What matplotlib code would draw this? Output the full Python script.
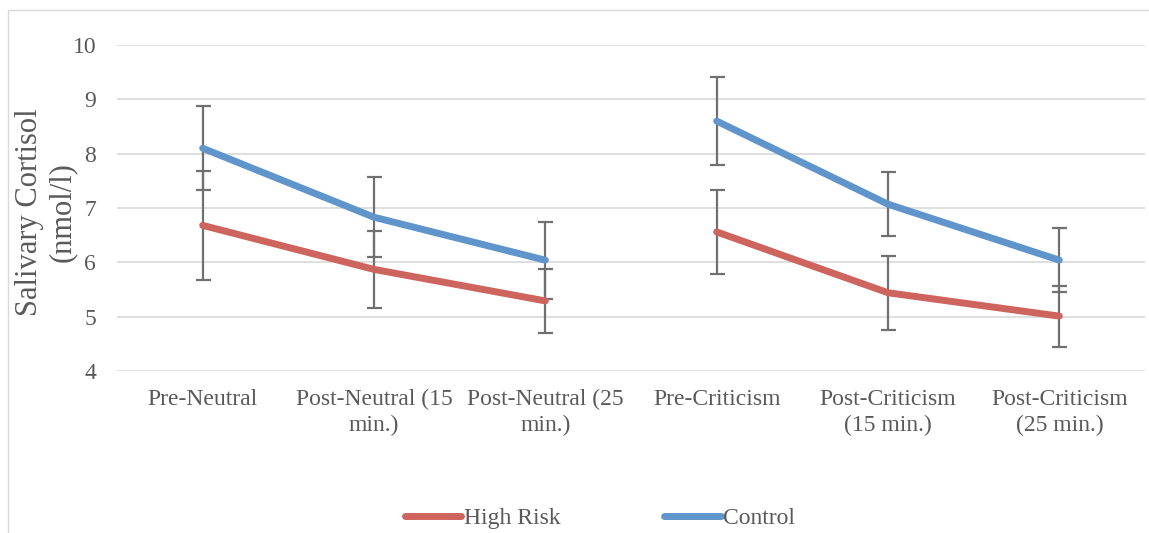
import matplotlib
matplotlib.use('Agg')
import matplotlib.pyplot as plt
import numpy as np
from matplotlib.patches import Rectangle
from matplotlib.lines import Line2D

# data
categories = ['Pre-Neutral', 'Post-Neutral (15\nmin.)', 'Post-Neutral (25\nmin.)',
              'Pre-Criticism', 'Post-Criticism\n(15 min.)', 'Post-Criticism\n(25 min.)']
high_risk = [6.68, 5.87, 5.29, 6.56, 5.44, 5.01]
high_risk_err = [1.0, 0.71, 0.59, 0.78, 0.68, 0.56]
control = [8.10, 6.83, 6.04, 8.60, 7.07, 6.04]
control_err = [0.77, 0.74, 0.71, 0.81, 0.59, 0.59]
segments = [(0, 3), (3, 6)]   # lines break between neutral and criticism

RED = '#CD645D'
BLUE = '#5F95CB'
GREY_TXT = '#595959'
FONT = 'Liberation Serif'

plt.rcParams['font.family'] = FONT

fig = plt.figure(figsize=(11.49, 5.33), dpi=100)
ax = fig.add_axes([117 / 1149, 1 - 371 / 533, 1028 / 1149, 326 / 533])

# outer chart frame
fig.patches.append(Rectangle((8 / 1149, -0.01), 1.2, 1 - 10 / 533 + 0.01,
                             transform=fig.transFigure, fill=False,
                             edgecolor='#D9D9D9', linewidth=1))

x = np.arange(len(categories))
for vals, errs, col in [(high_risk, high_risk_err, RED), (control, control_err, BLUE)]:
    ax.errorbar(x, vals, yerr=errs, fmt='none', ecolor='#707070', elinewidth=1.6,
                capsize=5.4, capthick=1.6, zorder=3)
    for a, b in segments:
        ax.plot(x[a:b], vals[a:b], color=col, linewidth=5, solid_capstyle='round',
                solid_joinstyle='round', zorder=4)

ax.set_xlim(-0.5, len(categories) - 0.5)
ax.set_ylim(4, 10)
ax.set_yticks(range(4, 11))
ax.grid(axis='y', color='#D9D9D9', linewidth=1.2)
ax.set_axisbelow(True)
for s in ax.spines.values():
    s.set_visible(False)
ax.tick_params(length=0, labelsize=17, colors=GREY_TXT)
ax.tick_params(axis='y', pad=15)
ax.set_xticks(x)
ax.set_xticklabels(categories, fontsize=17, color=GREY_TXT, linespacing=1.3, va='top')
ax.tick_params(axis='x', pad=13)

fig.text(46 / 1149, 1 - 212 / 533, 'Salivary Cortisol\n(nmol/l)', rotation=90,
         ha='center', va='center', fontsize=22, color=GREY_TXT, linespacing=1.15)

# legend
handles = [Line2D([], [], color=RED, linewidth=5, solid_capstyle='round'),
           Line2D([], [], color=BLUE, linewidth=5, solid_capstyle='round')]
fig.legend(handles, ['High Risk', 'Control'], loc='center', ncol=2,
           bbox_to_anchor=(600 / 1149, 1 - 518 / 533), frameon=False,
           fontsize=17, labelcolor=GREY_TXT, handlelength=2.4, handletextpad=0.1,
           columnspacing=4.4)

fig.savefig('out.png', dpi=100)
